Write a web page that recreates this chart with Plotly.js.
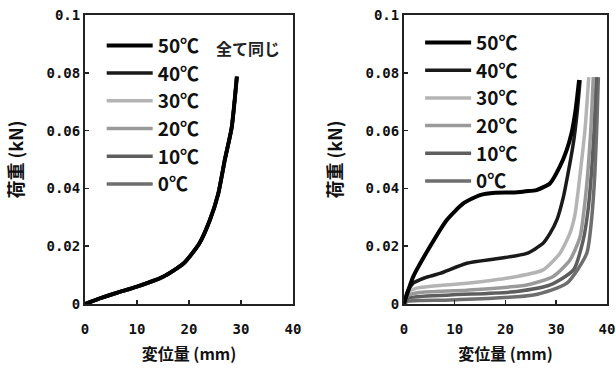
<!DOCTYPE html>
<html>
<head>
<meta charset="utf-8">
<script src="https://cdn.plot.ly/plotly-3.0.1.min.js"></script>
<style>html,body{margin:0;padding:0;background:#fff;}#chart{width:616px;height:377px;}</style>
</head>
<body>
<div id="chart"></div>
<script>
// ---- data ----
const tempLabels = ['50℃', '40℃', '30℃', '20℃', '10℃', '0℃'];
const xTickVals = [0, 10, 20, 30, 40];
const xTickText = ['0', '10', '20', '30', '40'];
const yTickVals = [0, 0.02, 0.04, 0.06, 0.08, 0.1];
const yTickText = ['0', '0.02', '0.04', '0.06', '0.08', '0.1'];
const xTitle = '変位量 (mm)';
const yTitle = '荷重 (kN)';
const noteText = '全て同じ';

// left panel: all temperatures identical
const leftX = [0, 3, 6, 10, 15, 19, 22, 24, 25.6, 26.9, 28.2, 29.2];
const leftY = [0, 0.002, 0.0038, 0.006, 0.0094, 0.0141, 0.021, 0.029, 0.038, 0.050, 0.061, 0.0787];

// right panel
const r50x = [0, 1.8, 5.1, 8.4, 11.7, 15, 18, 21.5, 24, 26.1, 28.8, 30.7, 32, 33, 33.8, 34.5];
const r50y = [0, 0.0094, 0.0198, 0.029, 0.0348, 0.0377, 0.0385, 0.0386, 0.039, 0.0394, 0.0418, 0.0475, 0.053, 0.059, 0.067, 0.0775];
const r40x = [0, 0.6, 1.8, 4, 7.1, 12.4, 18.9, 24.2, 27.4, 28.8, 30.1, 31.4, 32.3, 33.4, 34.1, 34.7];
const r40y = [0, 0.004, 0.0072, 0.009, 0.0106, 0.0141, 0.0158, 0.0175, 0.021, 0.0245, 0.029, 0.037, 0.045, 0.056, 0.066, 0.0775];
const r30x = [0, 0.8, 2.5, 12.4, 22.2, 27.4, 30.7, 32.7, 33.7, 34.9, 35.7, 36.4];
const r30y = [0, 0.004, 0.0055, 0.0072, 0.0095, 0.0118, 0.0175, 0.0245, 0.031, 0.048, 0.061, 0.0785];
const r20x = [0, 0.8, 3, 12.4, 24.2, 29.4, 32.7, 34.7, 35.5, 36.2, 36.8, 37.3];
const r20y = [0, 0.003, 0.004, 0.0048, 0.0066, 0.0095, 0.0152, 0.0233, 0.033, 0.045, 0.06, 0.0785];
const r10x = [0, 0.8, 9.1, 22.2, 28.8, 33.4, 35.3, 36.3, 37.0, 37.5, 37.9];
const r10y = [0, 0.002, 0.0031, 0.0043, 0.0066, 0.0118, 0.022, 0.033, 0.047, 0.062, 0.0785];
const r0x = [0, 0.8, 9.1, 25.5, 32.1, 36, 37.0, 37.6, 38.0, 38.3];
const r0y = [0, 0.001, 0.0014, 0.0031, 0.0072, 0.0175, 0.03, 0.045, 0.062, 0.0785];

// ---- styles ----
const colors = ['#000000', '#1a1a1a', '#b4b4b4', '#9a9a9a', '#5e5e5e', '#6e6e6e'];
const widths = [4, 3.5, 3.5, 3.5, 3.5, 3.5];
const rightX = [r50x, r40x, r30x, r20x, r10x, r0x];
const rightY = [r50y, r40y, r30y, r20y, r10y, r0y];

const traces = [];
// draw in reverse so 50℃ is on top; legendrank keeps legend order
for (let i = tempLabels.length - 1; i >= 0; i--) {
  traces.push({
    x: leftX, y: leftY, type: 'scatter', mode: 'lines',
    name: tempLabels[i], legend: 'legend', legendrank: i + 1,
    line: {color: colors[i], width: widths[i], shape: 'spline', smoothing: 0.6},
    xaxis: 'x', yaxis: 'y', hoverinfo: 'skip'
  });
}
for (let i = tempLabels.length - 1; i >= 0; i--) {
  traces.push({
    x: rightX[i], y: rightY[i], type: 'scatter', mode: 'lines',
    name: tempLabels[i], legend: 'legend2', legendrank: i + 1,
    line: {color: colors[i], width: widths[i], shape: 'spline', smoothing: 0.6},
    xaxis: 'x2', yaxis: 'y2', hoverinfo: 'skip'
  });
}

const tickFont = {family: 'DejaVu Sans Mono', size: 14, color: '#111', weight: 'bold'};
const titleFont = {family: 'Noto Sans CJK JP', size: 16, color: '#111', weight: 'bold'};
const legFont = {family: 'Noto Sans CJK JP', size: 19, color: '#111', weight: 'bold'};

function xa(dom) {
  return {domain: dom, range: [0, 40], tickvals: xTickVals, ticktext: xTickText,
    ticks: 'inside', ticklen: 4, tickwidth: 1.5, tickcolor: '#222', ticklabelstandoff: 11,
    showline: true, mirror: true, linecolor: '#222', linewidth: 2,
    showgrid: false, zeroline: false, tickfont: tickFont, fixedrange: true,
    title: {text: xTitle, font: titleFont, standoff: 13}};
}
function ya(anchor) {
  return {domain: [0, 1], range: [0, 0.1], tickvals: yTickVals, ticktext: yTickText,
    anchor: anchor,
    ticks: 'inside', ticklen: 4, tickwidth: 1.5, tickcolor: '#222',
    showline: true, mirror: true, linecolor: '#222', linewidth: 2,
    showgrid: false, zeroline: false, tickfont: tickFont, fixedrange: true,
    title: {text: yTitle, font: {family: 'Noto Sans CJK JP', size: 18, color: '#111', weight: 'bold'}, standoff: 18}};
}

const legBase = {font: legFont, bgcolor: 'rgba(0,0,0,0)', borderwidth: 0,
  xref: 'paper', yref: 'paper', xanchor: 'left', yanchor: 'top', itemwidth: 46,
  traceorder: 'normal'};

const layout = {
  width: 616, height: 377,
  margin: {l: 85, r: 9, t: 15, b: 73},
  paper_bgcolor: '#fff', plot_bgcolor: '#fff',
  showlegend: true,
  xaxis: xa([0, 0.3985]),
  yaxis: ya('x'),
  xaxis2: xa([0.6111, 1]),
  yaxis2: ya('x2'),
  legend: Object.assign({}, legBase, {x: 0.032, y: 0.96}),
  legend2: Object.assign({}, legBase, {x: 0.642, y: 0.97}),
  annotations: [{
    text: noteText, xref: 'x', yref: 'y', x: 31.3, y: 0.0885,
    showarrow: false, font: {family: 'Noto Sans CJK JP', size: 16, color: '#222', weight: 'bold'}
  }]
};

Plotly.newPlot('chart', traces, layout, {displayModeBar: false, staticPlot: true});
</script>
</body>
</html>
